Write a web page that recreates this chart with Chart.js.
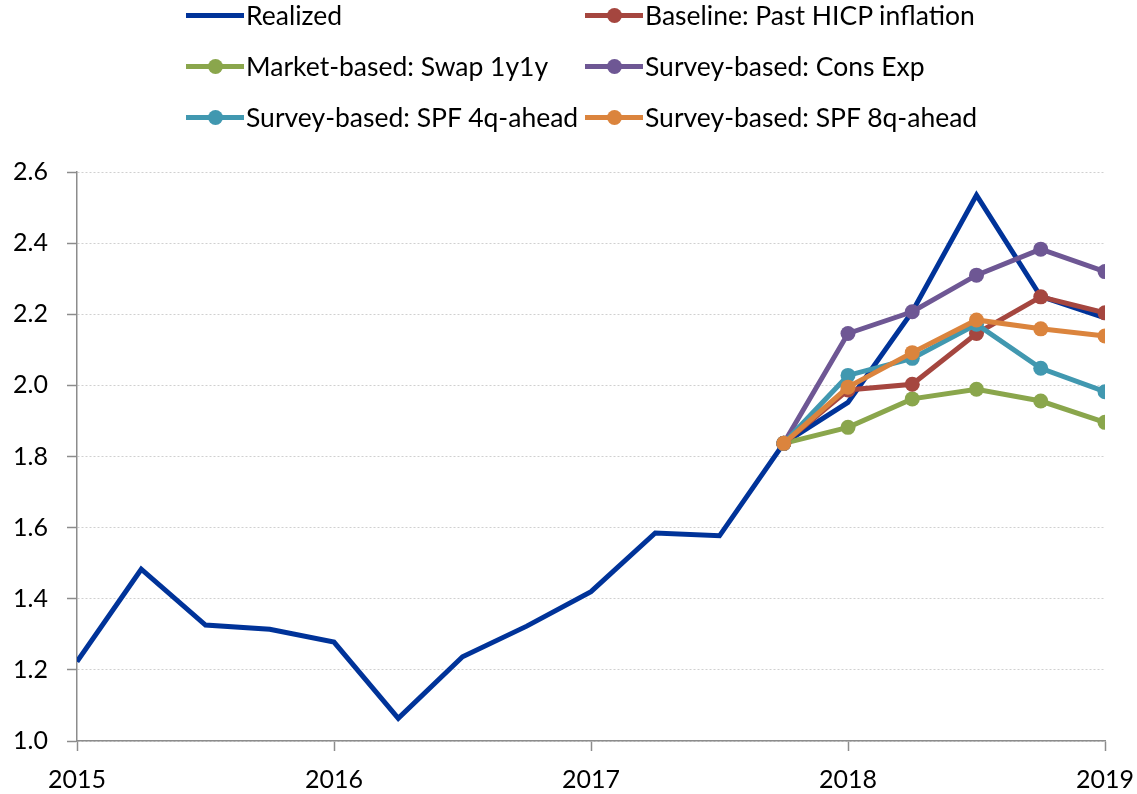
<!DOCTYPE html>
<html>
<head>
<meta charset="utf-8">
<script src="https://cdn.jsdelivr.net/npm/chart.js@4"></script>
<style>
  body { margin: 0; background: #fff; }
  #wrap { position: relative; width: 1137px; height: 794px; }
  #legend {
    position: absolute; left: 186px; top: 0;
    display: grid; grid-template-columns: 399px 399px;
    grid-auto-rows: 30px; row-gap: 21px;
    font-family: Lato, sans-serif; font-size: 26.5px; color: #000;
  }
  .item { display: flex; align-items: center; white-space: nowrap; }
  .swatch { position: relative; width: 58px; height: 5px; margin-right: 2px; flex: none; }
  .dot { position: absolute; left: 22px; top: -5px; width: 15px; height: 15px; border-radius: 50%; }
</style>
</head>
<body>
<div id="wrap">
  <canvas id="lineChart" width="1137" height="794"></canvas>
  <div id="legend"></div>
</div>
<script>
// quarter positions (decimal years), 2015Q1 .. 2019Q1
quarterX = [2015, 2015.25, 2015.5, 2015.75, 2016, 2016.25, 2016.5, 2016.75,
            2017, 2017.25, 2017.5, 2017.75, 2018, 2018.25, 2018.5, 2018.75, 2019];

realized = [1.223, 1.483, 1.326, 1.314, 1.278, 1.064, 1.237, 1.323,
            1.42, 1.585, 1.577, 1.837, 1.952, 2.207, 2.535, 2.25, 2.19];
baseline = [null, null, null, null, null, null, null, null,
            null, null, null, 1.837, 1.987, 2.003, 2.146, 2.249, 2.204];
swap1y1y = [null, null, null, null, null, null, null, null,
            null, null, null, 1.837, 1.882, 1.962, 1.989, 1.956, 1.896];
consExp  = [null, null, null, null, null, null, null, null,
            null, null, null, 1.837, 2.146, 2.207, 2.31, 2.383, 2.32];
spf4q    = [null, null, null, null, null, null, null, null,
            null, null, null, 1.837, 2.028, 2.076, 2.172, 2.048, 1.982];
spf8q    = [null, null, null, null, null, null, null, null,
            null, null, null, 1.837, 1.995, 2.092, 2.184, 2.159, 2.139];

yTicks = [1.0, 1.2, 1.4, 1.6, 1.8, 2.0, 2.2, 2.4, 2.6];
xTicks = [2015, 2016, 2017, 2018, 2019];

function pts(vals) {
    return quarterX.map(function(x, i) { return {x: x, y: vals[i]}; });
}

function series(label, vals, color, order, marker) {
    return {
        label: label,
        data: pts(vals),
        borderColor: color,
        backgroundColor: color,
        borderWidth: 5,
        pointRadius: marker ? 7.5 : 0,
        pointHoverRadius: marker ? 7.5 : 0,
        pointBorderWidth: 0,
        tension: 0,
        order: order,
        marker: marker
    };
}

var axisGray = '#8c8c8c';
var font = {family: 'Lato, sans-serif', size: 25};

var ctx = document.getElementById('lineChart').getContext('2d');
var lineChart = new Chart(ctx, {
    type: 'line',
    data: {
        datasets: [
            series('Realized', realized, '#003399', 6, false),
            series('Baseline: Past HICP inflation', baseline, '#a5463f', 4, true),
            series('Market-based: Swap 1y1y', swap1y1y, '#8aa64c', 5, true),
            series('Survey-based: Cons Exp', consExp, '#6e5794', 3, true),
            series('Survey-based: SPF 4q-ahead', spf4q, '#4198b0', 2, true),
            series('Survey-based: SPF 8q-ahead', spf8q, '#db843d', 1, true)
        ]
    },
    options: {
        responsive: false,
        animation: false,
        layout: { padding: {top: 172, right: 32, bottom: 0, left: 0} },
        plugins: {
            legend: { display: false },
            tooltip: { enabled: false }
        },
        scales: {
            x: {
                type: 'linear',
                min: 2015, max: 2019,
                afterBuildTicks: function(scale) {
                    scale.ticks = xTicks.map(function(v) { return {value: v}; });
                },
                afterFit: function(scale) {
                    scale.height = 53;
                    scale.paddingLeft = 0;
                    scale.paddingRight = 0;
                },
                ticks: {
                    color: '#000', font: font, padding: 14, maxRotation: 0,
                    callback: function(v) { return String(v); }
                },
                grid: {
                    drawOnChartArea: false, drawTicks: true,
                    tickLength: 10, tickColor: axisGray, tickWidth: 1.5
                },
                border: { color: axisGray, width: 1.5 }
            },
            y: {
                min: 1.0, max: 2.6,
                afterBuildTicks: function(scale) {
                    scale.ticks = yTicks.map(function(v) { return {value: v}; });
                },
                afterFit: function(scale) { scale.width = 77; },
                ticks: {
                    color: '#000', font: font, padding: 19,
                    callback: function(v) { return Number(v).toFixed(1); }
                },
                grid: {
                    color: '#d0d0d0', lineWidth: 1,
                    tickLength: 10, tickColor: axisGray, tickWidth: 1.5,
                    tickBorderDash: []
                },
                border: { color: axisGray, width: 1.5, dash: [2, 2] }
            }
        }
    }
});

// legend built from the chart datasets
var legend = document.getElementById('legend');
lineChart.data.datasets.forEach(function(ds) {
    var item = document.createElement('div');
    item.className = 'item';
    var sw = document.createElement('div');
    sw.className = 'swatch';
    sw.style.background = ds.borderColor;
    if (ds.marker) {
        var dot = document.createElement('div');
        dot.className = 'dot';
        dot.style.background = ds.borderColor;
        sw.appendChild(dot);
    }
    var txt = document.createElement('span');
    txt.textContent = ds.label;
    item.appendChild(sw);
    item.appendChild(txt);
    legend.appendChild(item);
});
</script>
</body>
</html>
